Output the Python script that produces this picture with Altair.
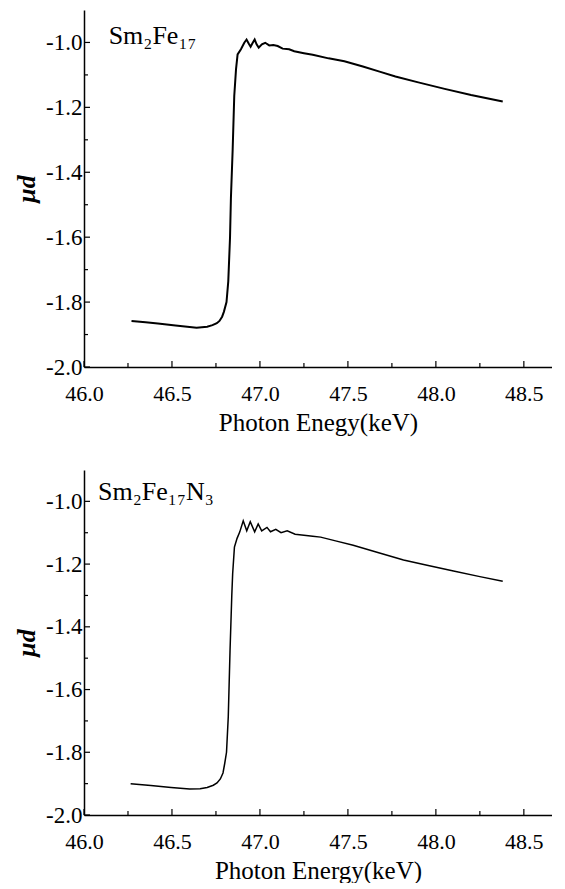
import altair as alt
import pandas as pd

FONT = "Liberation Serif"

# Sm2Fe17 spectrum (photon energy keV, mu*d)
energy_a = [46.27, 46.35, 46.42, 46.52, 46.64, 46.70, 46.73, 46.755, 46.77, 46.785,
            46.795, 46.81, 46.82, 46.83, 46.835, 46.845, 46.854, 46.864, 46.873, 46.892,
            46.911, 46.924, 46.936, 46.947, 46.959, 46.970, 46.981, 46.993, 47.011, 47.030,
            47.053, 47.076, 47.101, 47.129, 47.166, 47.195, 47.25, 47.30, 47.39, 47.48,
            47.585, 47.68, 47.77, 47.90, 48.05, 48.20, 48.38]
mud_a = [-1.858, -1.862, -1.866, -1.872, -1.879, -1.876, -1.871, -1.865, -1.858, -1.845,
         -1.830, -1.800, -1.736, -1.600, -1.480, -1.330, -1.165, -1.083, -1.037, -1.021,
         -1.001, -0.991, -1.003, -1.013, -1.001, -0.991, -1.006, -1.016, -1.006, -1.001,
         -1.009, -1.008, -1.011, -1.019, -1.021, -1.027, -1.033, -1.038, -1.049, -1.058,
         -1.074, -1.090, -1.105, -1.123, -1.143, -1.162, -1.182]

# Sm2Fe17N3 spectrum
energy_b = [46.265, 46.38, 46.495, 46.60, 46.66, 46.70, 46.735, 46.756, 46.775, 46.79,
            46.80, 46.81, 46.82, 46.83, 46.84, 46.845, 46.855, 46.87, 46.885, 46.905,
            46.925, 46.945, 46.97, 46.99, 47.01, 47.04, 47.06, 47.09, 47.12, 47.155,
            47.20, 47.25, 47.30, 47.345, 47.43, 47.53, 47.67, 47.816, 47.95, 48.10,
            48.25, 48.38]
mud_b = [-1.900, -1.906, -1.912, -1.917, -1.916, -1.912, -1.905, -1.898, -1.885, -1.866,
         -1.835, -1.800, -1.687, -1.476, -1.300, -1.230, -1.146, -1.118, -1.098, -1.062,
         -1.094, -1.065, -1.097, -1.072, -1.094, -1.083, -1.097, -1.089, -1.100, -1.094,
         -1.105, -1.108, -1.111, -1.114, -1.126, -1.140, -1.163, -1.187, -1.204, -1.222,
         -1.240, -1.255]

x_major = [46.0, 46.5, 47.0, 47.5, 48.0, 48.5]
x_minor = [46.25, 46.75, 47.25, 47.75, 48.25]
y_major = [-2.0, -1.8, -1.6, -1.4, -1.2, -1.0]
y_minor = [-1.9, -1.7, -1.5, -1.3, -1.1]

x_domain = [46.0, 48.66]
y_domain = [-2.0, -0.9]

Y_LABEL_EXPR = "datum.value < 0 ? '-' + format(-datum.value, '.1f') : format(datum.value, '.1f')"
W = 468


def panel(E, M, label, lx, ly, xtitle, H, lw):
    xs = alt.Scale(domain=x_domain, nice=False, zero=False)
    ys = alt.Scale(domain=y_domain, nice=False, zero=False)
    xax = alt.Axis(values=x_major, ticks=False, grid=False, domainColor="black",
                   domainWidth=1.5, labelFont=FONT, labelFontSize=22, labelColor="black",
                   labelPadding=16, format=".1f", labelFlush=False,
                   title=xtitle, titleFont=FONT, titleFontSize=25,
                   titleFontWeight="normal", titleColor="black", titlePadding=6)
    yax = alt.Axis(values=y_major, ticks=False, grid=False, domainColor="black",
                   domainWidth=1.5, labelFont=FONT, labelFontSize=23, labelColor="black",
                   labelPadding=2, labelExpr=Y_LABEL_EXPR, labelFlush=False,
                   title="\u03bcd", titleFont=FONT, titleFontSize=26,
                   titleFontWeight="bold", titleFontStyle="italic", titleColor="black",
                   titlePadding=6)
    X = alt.X("E:Q", scale=xs, axis=xax, title=xtitle)
    Y = alt.Y("M:Q", scale=ys, axis=yax, title="\u03bcd")
    df = pd.DataFrame({"E": E, "M": M})
    line = alt.Chart(df).mark_line(color="black", strokeWidth=lw).encode(
        x=X, y=Y, order="E:Q")
    xmaj = alt.Chart(pd.DataFrame({"E": x_major})).mark_rule(color="black", strokeWidth=1.2).encode(
        x=X, y=alt.value(H), y2=alt.value(H - 6))
    xmin = alt.Chart(pd.DataFrame({"E": x_minor})).mark_rule(color="black", strokeWidth=1.2).encode(
        x=X, y=alt.value(H), y2=alt.value(H - 4))
    ymaj = alt.Chart(pd.DataFrame({"M": y_major})).mark_rule(color="black", strokeWidth=1.2).encode(
        y=Y, x=alt.value(0), x2=alt.value(6))
    ymin = alt.Chart(pd.DataFrame({"M": y_minor})).mark_rule(color="black", strokeWidth=1.2).encode(
        y=Y, x=alt.value(0), x2=alt.value(4))
    txt = alt.Chart(pd.DataFrame({"E": [lx], "M": [ly], "t": [label]})).mark_text(
        align="left", baseline="alphabetic", font=FONT, fontSize=26, color="black").encode(
        x=X, y=Y, text="t:N")
    return alt.layer(line, xmaj, xmin, ymaj, ymin, txt).properties(width=W, height=H)


top = panel(energy_a, mud_a, "Sm\u2082Fe\u2081\u2087", 46.14, -1.006,
            "Photon Enegy(keV)", 357, 2.0)
bottom = panel(energy_b, mud_b, "Sm\u2082Fe\u2081\u2087N\u2083", 46.08, -0.995,
               "Photon Energy(keV)", 345, 1.5)

chart = alt.vconcat(top, bottom, spacing=35).properties(
    padding={"left": 5, "top": 2, "right": 0, "bottom": 0},
    background="white",
).configure_view(stroke=None)

chart.save("out.html", embed_options={"renderer": "svg", "actions": False})
